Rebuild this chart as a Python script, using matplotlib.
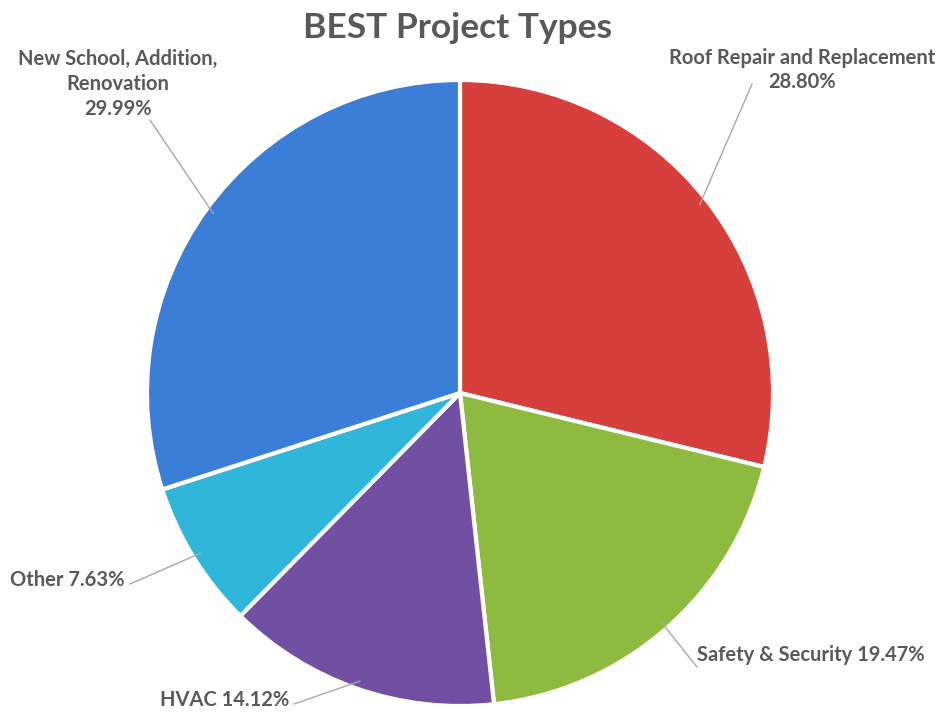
import numpy as np
import matplotlib.pyplot as plt

# slices, clockwise from 12 o'clock
categories = ["Roof Repair and Replacement", "Safety & Security", "HVAC",
              "Other", "New School, Addition, Renovation"]
shares = [28.80, 19.47, 14.12, 7.63, 29.99]
labels = ["Roof Repair and Replacement\n28.80%", "Safety & Security 19.47%",
          "HVAC 14.12%", "Other 7.63%", "New School, Addition,\nRenovation\n29.99%"]
colors = ["#D63F3B", "#8DBA3F", "#7150A3", "#2FB6DA", "#3A7ED8"]

W, H = 947, 717
CX, CY, R = 460, H - 393, 313
TEXT = "#595959"
FONT = ["Lato", "DejaVu Sans"]

fig = plt.figure(figsize=(W / 100, H / 100), dpi=100)
ax = fig.add_axes([0, 0, 1, 1])

wedges, _ = ax.pie(shares, colors=colors, startangle=90, counterclock=False,
                   center=(CX, CY), radius=R, explode=[0.015] * 5,
                   wedgeprops=dict(edgecolor="white", linewidth=3))
ax.set_xlim(0, W)
ax.set_ylim(0, H)
ax.set_aspect("equal")
ax.axis("off")

# label placement (pixel positions, top-left origin) and alignment
label_pos = [(802, 70, "center"), (697, 655, "left"), (160, 700, "left"),
             (10, 580, "left"), (118, 84, "center")]
line_end = [(752, 84), (697, 667), (294, 704), (130, 584), (150, 120)]

for w, lab, (tx, ty, ha), (lx, ly) in zip(wedges, labels, label_pos, line_end):
    mid = np.deg2rad((w.theta1 + w.theta2) / 2)
    cx, cy = w.center
    ex = cx + (R - 8) * np.cos(mid)
    ey = cy + (R - 8) * np.sin(mid)
    ax.text(tx, H - ty, lab, ha=ha, va="center", color=TEXT, fontsize=14.5,
            fontweight="bold", family=FONT, linespacing=1.3)
    ax.plot([ex, lx], [ey, H - ly], color="#A8A8A8", lw=1)

fig.text(458 / W, 1 - 28 / H, "BEST Project Types", ha="center", va="center",
         fontsize=25.5, fontweight="bold", color=TEXT, family=FONT)

fig.savefig("out.png", dpi=100)
